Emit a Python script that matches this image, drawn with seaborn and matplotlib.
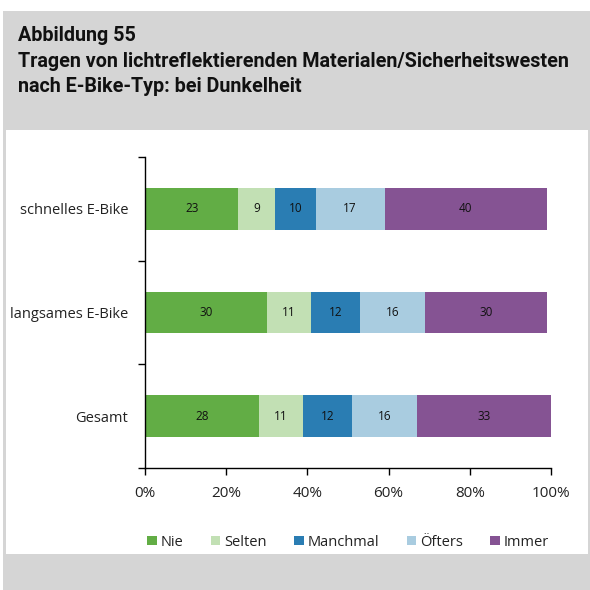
import matplotlib
matplotlib.use("Agg")
import matplotlib.pyplot as plt
from matplotlib.patches import Rectangle
import numpy as np
import pandas as pd
import seaborn as sns

categories = ["schnelles E-Bike", "langsames E-Bike", "Gesamt"]
series = ["Nie", "Selten", "Manchmal", "Öfters", "Immer"]
nie = [23, 30, 28]
selten = [9, 11, 11]
manchmal = [10, 12, 12]
oefters = [17, 16, 16]
immer = [40, 30, 33]
xticks = [0, 20, 40, 60, 80, 100]
xtick_labels = ["0%", "20%", "40%", "60%", "80%", "100%"]
colors = ["#62AD45", "#C2E0B4", "#2A7DB3", "#A9CCE0", "#855393"]

sns.set_theme(style="white")
plt.rcParams["font.family"] = ["Open Sans", "DejaVu Sans"]

W, H = 590, 590
fig = plt.figure(figsize=(W / 100, H / 100), dpi=100)
fig.patch.set_facecolor("white")

gray = "#D5D5D5"
def frect(x0, y0, x1, y1):
    fig.patches.append(Rectangle((x0 / W, 1 - y1 / H), (x1 - x0) / W, (y1 - y0) / H,
                                 transform=fig.transFigure, facecolor=gray,
                                 edgecolor="none", zorder=-10))
frect(3, 11, 590, 130)   # header
frect(3, 130, 6, 554)    # left frame
frect(588, 130, 590, 554)  # right frame
frect(3, 554, 590, 590)  # footer

fig.text(18 / W, 1 - 26 / H,
         "Abbildung 55\nTragen von lichtreflektierenden Materialen/Sicherheitswesten\nnach E-Bike-Typ: bei Dunkelheit",
         family=["Roboto", "DejaVu Sans"], fontweight="bold",
         fontsize=14.2, va="top", ha="left", linespacing=1.45, color="#111111")

ax = fig.add_axes([145 / W, 1 - 468 / H, (551 - 145) / W, (468 - 157) / H])

df = pd.DataFrame({"Kategorie": categories, "Nie": nie, "Selten": selten,
                   "Manchmal": manchmal, "Öfters": oefters, "Immer": immer})
cum = df[series].cumsum(axis=1)

# draw cumulative totals from the back so each segment shows on top
for s, c in reversed(list(zip(series, colors))):
    sns.barplot(data=pd.DataFrame({"Kategorie": categories, "v": cum[s]}),
                x="v", y="Kategorie", orient="h", color=c, width=0.4,
                saturation=1, ax=ax, label=s, edgecolor="none", linewidth=0)

# segment value labels
for i in range(len(categories)):
    left = 0
    for s in series:
        v = df.loc[i, s]
        ax.text(left + v / 2, i, f"{v}", ha="center", va="center",
                fontsize=8.5, color="#111111")
        left += v

ax.set_xlim(0, 100)
ax.set_ylim(2.5, -0.5)
ax.set_xticks(xticks)
ax.set_xticklabels(xtick_labels, fontsize=11, color="#222222")
ax.set_yticks(range(len(categories)))
ax.set_yticklabels(categories, fontsize=10.5, color="#222222")
ax.set_xlabel("")
ax.set_ylabel("")
for sp in ["top", "right"]:
    ax.spines[sp].set_visible(False)
for sp in ["left", "bottom"]:
    ax.spines[sp].set_color("black")
    ax.spines[sp].set_linewidth(1)

# ticks at category boundaries on the y axis
ax.set_yticks([-0.5, 0.5, 1.5, 2.5], minor=True)
ax.tick_params(axis="y", which="major", left=True, length=0, pad=12)
ax.tick_params(axis="y", which="minor", left=True, length=5, width=1,
               color="black", direction="out")
ax.tick_params(axis="x", which="major", bottom=True, length=5, width=1,
               color="black", direction="out", pad=8)

handles = [Rectangle((0, 0), 1, 1, facecolor=c, edgecolor="none") for c in colors]
leg = ax.legend(handles, series, loc="upper center", bbox_to_anchor=(0.5, -0.172),
                ncol=5, frameon=False, fontsize=10.5, handlelength=0.65, handleheight=0.65,
                handletextpad=0.25, columnspacing=1.9)
for t in leg.get_texts():
    t.set_color("#222222")

fig.savefig("out.png", dpi=100)
